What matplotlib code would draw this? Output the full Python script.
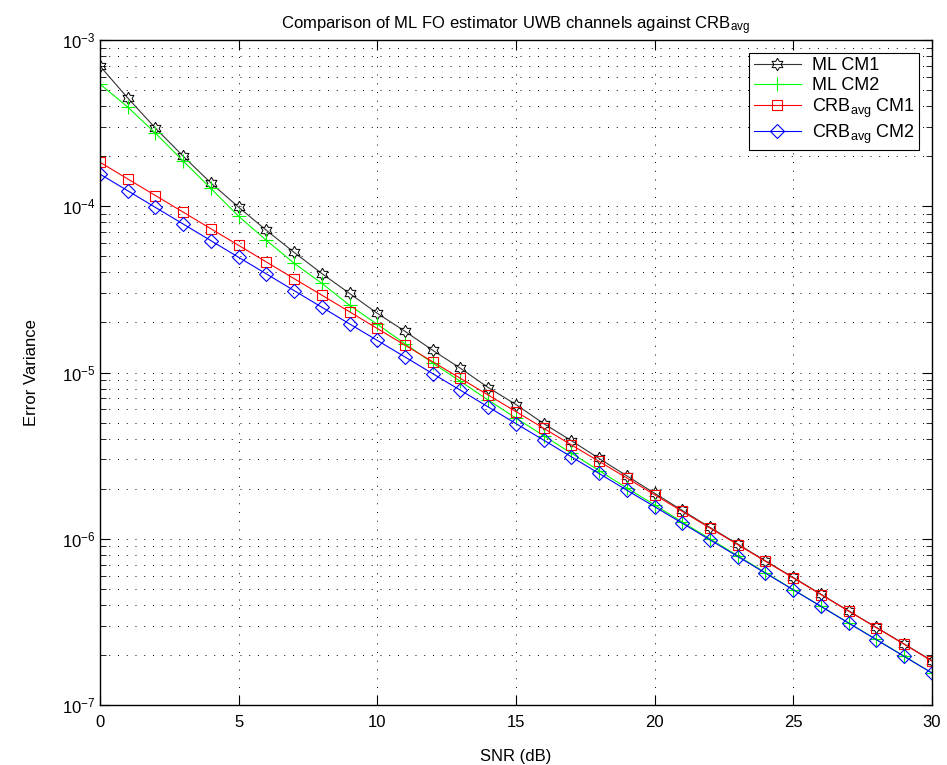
import numpy as np
import matplotlib
matplotlib.use('Agg')
import matplotlib.pyplot as plt
from matplotlib.ticker import LogLocator, MultipleLocator, NullFormatter

plt.rcParams['font.family'] = ['Liberation Sans', 'DejaVu Sans']
plt.rcParams['mathtext.fontset'] = 'custom'
plt.rcParams['mathtext.rm'] = 'Liberation Sans'
plt.rcParams['mathtext.it'] = 'Liberation Sans'
plt.rcParams['mathtext.default'] = 'regular'

# --- data ---
snr_db = list(range(0, 31))

ml_cm1 = [6.97e-4, 4.48e-4, 2.95e-4, 2.00e-4, 1.38e-4, 9.87e-5, 7.17e-5, 5.28e-5,
          3.94e-5, 2.99e-5, 2.27e-5, 1.77e-5, 1.36e-5, 1.06e-5, 8.12e-6, 6.42e-6,
          4.93e-6, 3.89e-6, 3.04e-6, 2.39e-6, 1.88e-6, 1.48e-6, 1.17e-6, 9.29e-7,
          7.36e-7, 5.85e-7, 4.64e-7, 3.68e-7, 2.93e-7, 2.33e-7, 1.85e-7]

ml_cm2 = [5.43e-4, 3.95e-4, 2.75e-4, 1.87e-4, 1.28e-4, 8.70e-5, 6.24e-5, 4.54e-5,
          3.44e-5, 2.54e-5, 1.95e-5, 1.49e-5, 1.14e-5, 8.84e-6, 6.83e-6, 5.32e-6,
          4.17e-6, 3.27e-6, 2.57e-6, 2.02e-6, 1.60e-6, 1.26e-6, 9.99e-7, 7.90e-7,
          6.26e-7, 4.95e-7, 3.93e-7, 3.12e-7, 2.48e-7, 1.97e-7, 1.56e-7]

crb_cm1 = [1.84e-4, 1.46e-4, 1.16e-4, 9.22e-5, 7.32e-5, 5.82e-5, 4.62e-5, 3.67e-5,
           2.92e-5, 2.32e-5, 1.84e-5, 1.46e-5, 1.16e-5, 9.22e-6, 7.32e-6, 5.82e-6,
           4.62e-6, 3.67e-6, 2.92e-6, 2.32e-6, 1.84e-6, 1.46e-6, 1.16e-6, 9.22e-7,
           7.32e-7, 5.82e-7, 4.62e-7, 3.67e-7, 2.92e-7, 2.32e-7, 1.84e-7]

crb_cm2 = [1.56e-4, 1.24e-4, 9.84e-5, 7.82e-5, 6.21e-5, 4.93e-5, 3.92e-5, 3.11e-5,
           2.47e-5, 1.96e-5, 1.56e-5, 1.24e-5, 9.84e-6, 7.82e-6, 6.21e-6, 4.93e-6,
           3.92e-6, 3.11e-6, 2.47e-6, 1.96e-6, 1.56e-6, 1.24e-6, 9.84e-7, 7.82e-7,
           6.21e-7, 4.93e-7, 3.92e-7, 3.11e-7, 2.47e-7, 1.96e-7, 1.56e-7]

labels = ['ML CM1', 'ML CM2', 'CRB$_{avg}$ CM1', 'CRB$_{avg}$ CM2']

# six-pointed star (MATLAB 'hexagram') marker outline
ang = np.deg2rad(90 + 30 * np.arange(12))
rad = np.where(np.arange(12) % 2 == 0, 1.0, 1 / np.sqrt(3))
hexagram = list(zip(rad * np.cos(ang), rad * np.sin(ang)))
hexagram.append(hexagram[0])

fig = plt.figure(figsize=(9.47, 7.65), dpi=100)
ax = fig.add_axes([0.1056, 0.0784, 0.8784, 0.8693])

ax.semilogy(snr_db, ml_cm1, color='#333333', lw=0.8, marker=hexagram, ms=9,
            mfc='none', mec='black', mew=0.7, label=labels[0])
ax.semilogy(snr_db, ml_cm2, color='#00ff00', lw=0.8, marker='+', ms=10,
            mew=0.8, label=labels[1])
ax.semilogy(snr_db, crb_cm1, color='#ff0000', lw=0.8, marker='s', ms=7,
            mfc='none', mew=0.8, label=labels[2])
ax.semilogy(snr_db, crb_cm2, color='#0000ff', lw=0.8, marker='D', ms=7,
            mfc='none', mew=0.8, label=labels[3])

ax.set_xlim(0, 30)
ax.set_ylim(1e-7, 1e-3)
ax.xaxis.set_major_locator(MultipleLocator(5))
ax.yaxis.set_major_locator(LogLocator(base=10, numticks=10))
ax.yaxis.set_minor_locator(LogLocator(base=10, subs=np.arange(2, 10), numticks=10))
ax.yaxis.set_minor_formatter(NullFormatter())

ax.tick_params(which='both', direction='in', top=True, right=True, labelsize=12)
ax.tick_params(which='major', length=7, width=0.8)
ax.tick_params(which='minor', length=4, width=0.6)
ax.tick_params(axis='x', pad=7)

ax.grid(True, which='major', color='black', linestyle=(0, (1, 8)), linewidth=0.7)
ax.grid(True, which='minor', axis='y', color='black', linestyle=(0, (1, 8)), linewidth=0.7)
for s in ax.spines.values():
    s.set_linewidth(1.0)

ax.set_xlabel('SNR (dB)', fontsize=12, labelpad=14)
ax.set_ylabel('Error Variance', fontsize=12, labelpad=16)
ax.set_title('Comparison of ML FO estimator UWB channels against CRB$_{avg}$',
             fontsize=12, pad=8)

leg = ax.legend(loc='upper right', fontsize=13, fancybox=False, framealpha=1,
                edgecolor='black', borderaxespad=0.7, handlelength=2.6,
                labelspacing=0.15, borderpad=0.25, handletextpad=0.6)
leg.get_frame().set_linewidth(0.8)

fig.savefig('out.png', dpi=100)
